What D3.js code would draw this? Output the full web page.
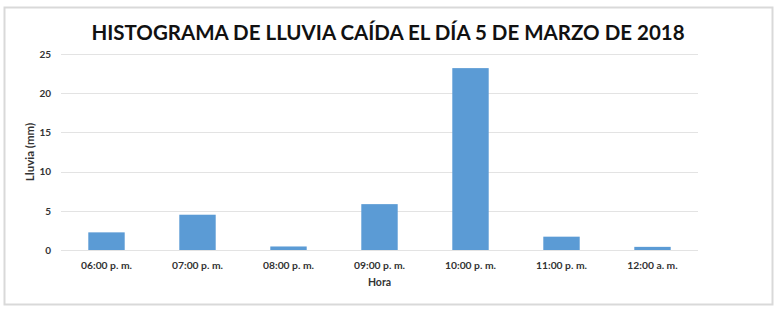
<!DOCTYPE html>
<html>
<head>
<meta charset="utf-8">
<script src="https://cdn.jsdelivr.net/npm/d3@7"></script>
<style>
  body { margin: 0; background: #fff; }
  text { font-family: Lato, "Open Sans", sans-serif; }
</style>
</head>
<body>
<div id="chart"></div>
<script>
const horas = ["06:00 p. m.", "07:00 p. m.", "08:00 p. m.", "09:00 p. m.", "10:00 p. m.", "11:00 p. m.", "12:00 a. m."];
const lluvia = [2.25, 4.5, 0.45, 5.85, 23.2, 1.7, 0.4];
const yTicks = [0, 5, 10, 15, 20, 25];

const width = 780;
const height = 312;
const margin = { top: 54, right: 82, bottom: 62, left: 61 };

const svg = d3.select("#chart")
    .append("svg")
    .attr("width", width)
    .attr("height", height);

// chart frame
svg.append("rect")
    .attr("x", 4.5)
    .attr("y", 7.5)
    .attr("width", 768)
    .attr("height", 297)
    .attr("fill", "#fff")
    .attr("stroke", "#d9d9d9")
    .attr("stroke-width", 2);

svg.append("text")
    .attr("x", 388)
    .attr("y", 40)
    .attr("text-anchor", "middle")
    .style("font-size", "20.5px")
    .style("font-weight", "bold")
    .attr("fill", "#111")
    .text("HISTOGRAMA DE LLUVIA CAÍDA EL DÍA 5 DE MARZO DE 2018");

const x = d3.scaleBand()
    .domain(horas)
    .range([margin.left, width - margin.right])
    .paddingInner(0.6)
    .paddingOuter(0.3);

const y = d3.scaleLinear()
    .domain([0, 25])
    .range([height - margin.bottom, margin.top]);

// gridlines
svg.append("g")
    .selectAll("line")
    .data(yTicks)
    .enter().append("line")
    .attr("x1", margin.left)
    .attr("x2", width - margin.right)
    .attr("y1", d => Math.round(y(d)) + 0.5)
    .attr("y2", d => Math.round(y(d)) + 0.5)
    .attr("stroke", "#e3e3e3")
    .attr("stroke-width", 1);

const yAxis = svg.append("g")
    .attr("transform", `translate(${margin.left - 10},0)`)
    .call(d3.axisLeft(y).tickValues(yTicks).tickSize(0));
yAxis.select(".domain").remove();
yAxis.selectAll("text")
    .attr("x", 0)
    .style("font-size", "10px")
    .style("font-weight", "bold")
    .attr("fill", "#333");

svg.selectAll("rect.bar")
    .data(lluvia)
    .enter().append("rect")
    .attr("class", "bar")
    .attr("x", (d, i) => x(horas[i]))
    .attr("y", d => y(d))
    .attr("width", x.bandwidth())
    .attr("height", d => y(0) - y(d))
    .attr("fill", "#5b9bd5");

const xAxis = svg.append("g")
    .attr("transform", `translate(0,${height - margin.bottom})`)
    .call(d3.axisBottom(x).tickSize(0));
xAxis.select(".domain").remove();
xAxis.selectAll("text")
    .attr("y", 12)
    .style("font-size", "10.3px")
    .style("font-weight", "bold")
    .attr("fill", "#333");

svg.append("text")
    .attr("x", (margin.left + width - margin.right) / 2)
    .attr("y", 286)
    .attr("text-anchor", "middle")
    .style("font-size", "10.5px")
    .style("font-weight", "bold")
    .attr("fill", "#333")
    .text("Hora");

svg.append("text")
    .attr("transform", `translate(33.5,${(y(0) + y(25)) / 2}) rotate(-90)`)
    .attr("text-anchor", "middle")
    .style("font-size", "11.5px")
    .style("font-weight", "bold")
    .attr("fill", "#333")
    .text("Lluvia (mm)");
</script>
</body>
</html>
